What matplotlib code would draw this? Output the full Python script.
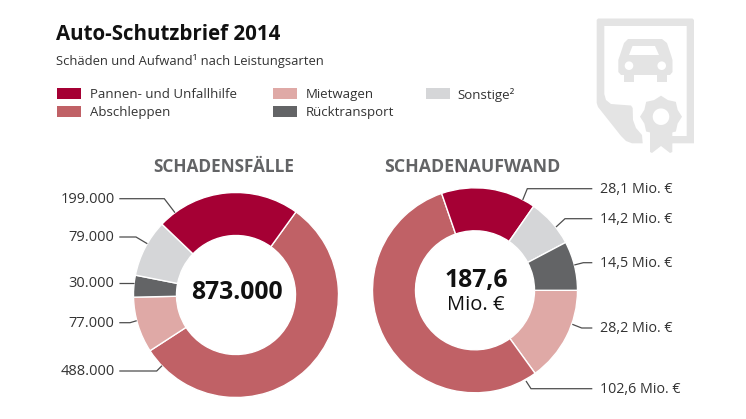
import numpy as np
import matplotlib
matplotlib.use('Agg')
import matplotlib.pyplot as plt
from matplotlib.patches import Rectangle, PathPatch
from matplotlib.path import Path

plt.rcParams['font.family'] = ['Open Sans', 'DejaVu Sans']

# clockwise order as drawn in each ring
schaeden_cats = ['Abschleppen', 'Mietwagen', 'Rücktransport', 'Sonstige²', 'Pannen- und Unfallhilfe']
schaeden = [488000, 77000, 30000, 79000, 199000]
schaeden_labels = ['488.000', '77.000', '30.000', '79.000', '199.000']
aufwand_cats = ['Mietwagen', 'Abschleppen', 'Pannen- und Unfallhilfe', 'Sonstige²', 'Rücktransport']
aufwand = [28.2, 102.6, 28.1, 14.2, 14.5]
aufwand_labels = ['28,2 Mio. €', '102,6 Mio. €', '28,1 Mio. €', '14,2 Mio. €', '14,5 Mio. €']

colors = {
    'Pannen- und Unfallhilfe': '#a50034',
    'Abschleppen': '#c06166',
    'Mietwagen': '#dfa9a6',
    'Rücktransport': '#636466',
    'Sonstige²': '#d5d6d8',
}
TEXT = '#333333'
ICON = '#e4e4e4'
H = 419


def y(py):
    # picture rows count from the top
    return H - py


def donut(ax, values, cats, cx, cy, start):
    ax.pie(values, colors=[colors[c] for c in cats], center=(cx, y(cy)), radius=102.5,
           startangle=start, counterclock=False, frame=False,
           wedgeprops=dict(width=43, edgecolor='white', linewidth=1))


def leader(ax, points, color='#4d4d4d'):
    xs = [p[0] for p in points]
    ys = [y(p[1]) for p in points]
    ax.plot(xs, ys, color=color, lw=0.9, solid_capstyle='butt', solid_joinstyle='miter')


def icon_paths(ax):
    verts, codes = [], []

    def poly(pts):
        verts.extend(pts + [pts[0]])
        codes.extend([Path.MOVETO] + [Path.LINETO] * (len(pts) - 1) + [Path.CLOSEPOLY])

    def circle(cx, cy, r, n=32):
        a = np.linspace(0, 2 * np.pi, n, endpoint=False)
        poly([(cx + r * np.cos(t), cy + r * np.sin(t)) for t in a][::-1])

    # sheet frame
    poly([(598, 18.5), (692.5, 18.5), (694, 20), (694, 143.3), (671, 143.3), (671, 136),
          (686.7, 136), (686.7, 26), (604.3, 26), (604.3, 94), (606, 100), (611, 104),
          (631, 105.5), (632.7, 108), (633, 120), (636, 128), (642, 135), (642.7, 143.3),
          (632, 143.3), (626, 141), (621, 136), (598, 107), (596.7, 103), (596.7, 20)])
    # car
    poly([(628, 39), (662, 39), (667, 43), (671, 55), (672.5, 60), (672.5, 72), (670, 75),
          (667, 75), (667, 82), (657, 82), (657, 75), (634, 75), (634, 82), (624, 82),
          (624, 75), (621, 75), (618.3, 72), (618.3, 60), (620, 55), (624, 43)])
    poly([(632.5, 46), (629, 55), (659, 55), (655, 46)])
    circle(629, 65.7, 4.3)
    circle(661.7, 65.7, 4.3)
    # ribbon and seal
    poly([(650, 125), (672.3, 125), (672.3, 152), (670, 153), (661, 146), (652, 153), (650, 152)])
    seal = []
    for i in range(16):
        r = 21 if i % 2 == 0 else 18
        t = np.pi / 2 + i * np.pi / 8
        seal.append((661 + r * np.cos(t), 116.7 + r * np.sin(t)))
    poly(seal)
    circle(661, 116.7, 8.3)

    verts = [(vx, y(vy)) for vx, vy in verts]
    ax.add_patch(PathPatch(Path(verts, codes), facecolor=ICON, edgecolor='none'))


fig = plt.figure(figsize=(7.46, 4.19), dpi=100)
ax = fig.add_axes([0, 0, 1, 1])

icon_paths(ax)
donut(ax, schaeden, schaeden_cats, 236, 295, 54.2)
donut(ax, aufwand, aufwand_cats, 475, 290.3, 0)
ax.set_xlim(0, 746)
ax.set_ylim(0, H)
ax.set_aspect('equal')
ax.axis('off')

# heading
ax.text(56, y(34.5), 'Auto-Schutzbrief 2014', fontsize=14.8, fontweight='bold', color='#111111', va='center')
ax.text(56, y(60.5), 'Schäden und Aufwand¹ nach Leistungsarten', fontsize=9.4, color=TEXT, va='center')

# legend
legend_order = ['Pannen- und Unfallhilfe', 'Abschleppen', 'Mietwagen', 'Rücktransport', 'Sonstige²']
legend_pos = [(56.7, 94), (56.7, 112), (273, 94), (273, 112), (426, 94)]
for name, (lx, ly) in zip(legend_order, legend_pos):
    ax.add_patch(Rectangle((lx, y(ly + 5.5)), 24, 11, facecolor=colors[name], edgecolor='none'))
    tx = lx + 33 if lx < 400 else lx + 31
    ax.text(tx, y(ly + 0.8), name, fontsize=9.5, color=TEXT, va='center')

# donut headings and centre values
ax.text(224, y(166.5), 'SCHADENSFÄLLE', fontsize=12.4, fontweight='bold', color='#636466', ha='center', va='center')
ax.text(472.5, y(166.5), 'SCHADENAUFWAND', fontsize=12.8, fontweight='bold', color='#636466', ha='center', va='center')
ax.text(236.5, y(292.5), '873.000', fontsize=17.8, fontweight='bold', color='#111111', ha='center', va='center')
ax.text(476, y(280), '187,6', fontsize=17.8, fontweight='bold', color='#111111', ha='center', va='center')
ax.text(476, y(305), 'Mio. €', fontsize=14.5, color='#111111', ha='center', va='center')

# leader lines and value labels, same order as the values
left_lines = [
    [(119.3, 371), (156.7, 371), (162, 365.7)],
    [(119.3, 322.7), (130, 322.7), (136.7, 320.7)],
    [(119.3, 283), (134.3, 283)],
    [(119.3, 237), (136, 237), (147.3, 243.7)],
    [(119.3, 198.7), (164.3, 198.7), (175, 212.7)],
]
right_lines = [
    [(592.3, 328), (581.7, 328), (572.3, 324.3)],
    [(592.3, 388.7), (531, 388.7), (526, 381)],
    [(592.3, 188.7), (527.3, 188.7), (522.7, 200)],
    [(592.3, 218.7), (565, 218.7), (556, 227)],
    [(592.3, 262.7), (583.3, 262.7), (574.3, 265)],
]
for label, pts in zip(schaeden_labels, left_lines):
    leader(ax, pts)
    ax.text(114.6, y(pts[0][1] + 0.8), label, fontsize=10.5, color=TEXT, ha='right', va='center')
for label, pts in zip(aufwand_labels, right_lines):
    leader(ax, pts)
    ax.text(600, y(pts[0][1] + 0.8), label, fontsize=10.3, color=TEXT, ha='left', va='center')

fig.savefig('out.png', dpi=100)
